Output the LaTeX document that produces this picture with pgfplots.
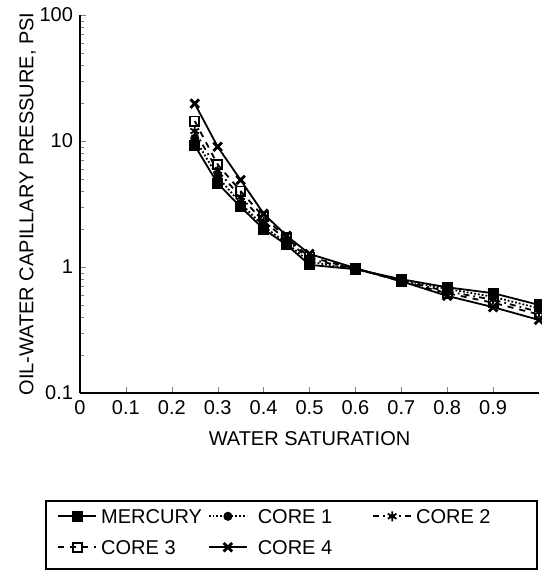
\documentclass[border=0pt]{standalone}
\usepackage{pgfplots}
\pgfplotsset{compat=1.18}
\usepackage{fontspec}
\setmainfont{Liberation Sans}

\begin{document}
\begin{tikzpicture}
  \begin{axis}[
      scale only axis,
      clip=false,
      width=229.5pt, height=189pt,
      ymode=log,
      xmin=0, xmax=1,
      ymin=0.1, ymax=100,
      xtick={0,0.1,...,0.9},
      ytick={0.1,1,10,100},
      yticklabels={0.1,1,10,100},
      axis lines=left,
      axis line style={-, line width=0.8pt},
      tick align=inside,
      major tick length=3pt,
      minor tick length=2pt,
      xlabel={WATER SATURATION},
      ylabel={OIL-WATER CAPILLARY PRESSURE, PSI},
      xlabel style={yshift=-2pt},
      ylabel style={yshift=-5pt},
      font=\fontsize{10}{12}\selectfont,
      tick label style={font=\fontsize{10}{12}\selectfont},
      /pgf/number format/assume math mode=true,
      legend columns=3,
      legend cell align=left,
      legend image code/.code={
        \draw[mark repeat=2,mark phase=2] plot coordinates {(0pt,0pt) (9.5pt,0pt) (19pt,0pt)};
      },
      legend style={
        draw=none, fill=none, inner sep=0pt,
        at={(rel axis cs:-0.05,-0.296)}, anchor=north west,
        font=\fontsize{10}{12}\selectfont,
        nodes={text height=7pt, text depth=0pt, inner sep=2pt},
        /tikz/column 2/.style={column sep=1pt},
        /tikz/column 3/.style={column sep=3pt},
        /tikz/column 4/.style={column sep=18pt},
        row sep=4.5pt,
      },
      every axis plot/.append style={line width=0.9pt, black},
    ]
    \addplot[solid, mark=square*, mark size=2.3pt] coordinates {
      (0.25,9.2) (0.30,4.6) (0.35,3.0) (0.40,2.0) (0.45,1.5) (0.50,1.04)
      (0.60,0.96) (0.70,0.80) (0.80,0.69) (0.90,0.62) (1.00,0.50)
    };
    \addplot[densely dotted, mark=*, mark size=1.8pt, mark options={solid}] coordinates {
      (0.25,10.5) (0.30,5.2) (0.35,3.2) (0.40,2.1) (0.45,1.55) (0.50,1.1)
      (0.60,0.96) (0.70,0.79) (0.80,0.67) (0.90,0.58) (1.00,0.47)
    };
    \addplot[dash dot, mark=asterisk, mark size=2.5pt, mark options={solid}] coordinates {
      (0.25,12) (0.30,5.8) (0.35,3.6) (0.40,2.3) (0.45,1.65) (0.50,1.15)
      (0.60,0.97) (0.70,0.78) (0.80,0.64) (0.90,0.55) (1.00,0.44)
    };
    \addplot[dashed, mark=square, mark size=2.3pt, mark options={solid, fill=white}] coordinates {
      (0.25,14.4) (0.30,6.5) (0.35,4.0) (0.40,2.5) (0.45,1.7) (0.50,1.2)
      (0.60,0.97) (0.70,0.77) (0.80,0.62) (0.90,0.52) (1.00,0.42)
    };
    \addplot[solid, mark=x, mark size=3pt, mark options={line width=1.4pt}] coordinates {
      (0.25,19.8) (0.30,9) (0.35,4.9) (0.40,2.65) (0.45,1.77) (0.50,1.27)
      (0.60,0.98) (0.70,0.77) (0.80,0.59) (0.90,0.48) (1.00,0.38)
    };
    \legend{MERCURY, CORE 1, CORE 2, CORE 3, CORE 4}
    \draw[line width=0.7pt] (rel axis cs:-0.074,-0.286) rectangle (rel axis cs:0.9956,-0.466);
  \end{axis}
  \pgfresetboundingbox
  \path (-40pt,-89.5pt) rectangle (230.5pt,196.5pt);
\end{tikzpicture}
\end{document}
